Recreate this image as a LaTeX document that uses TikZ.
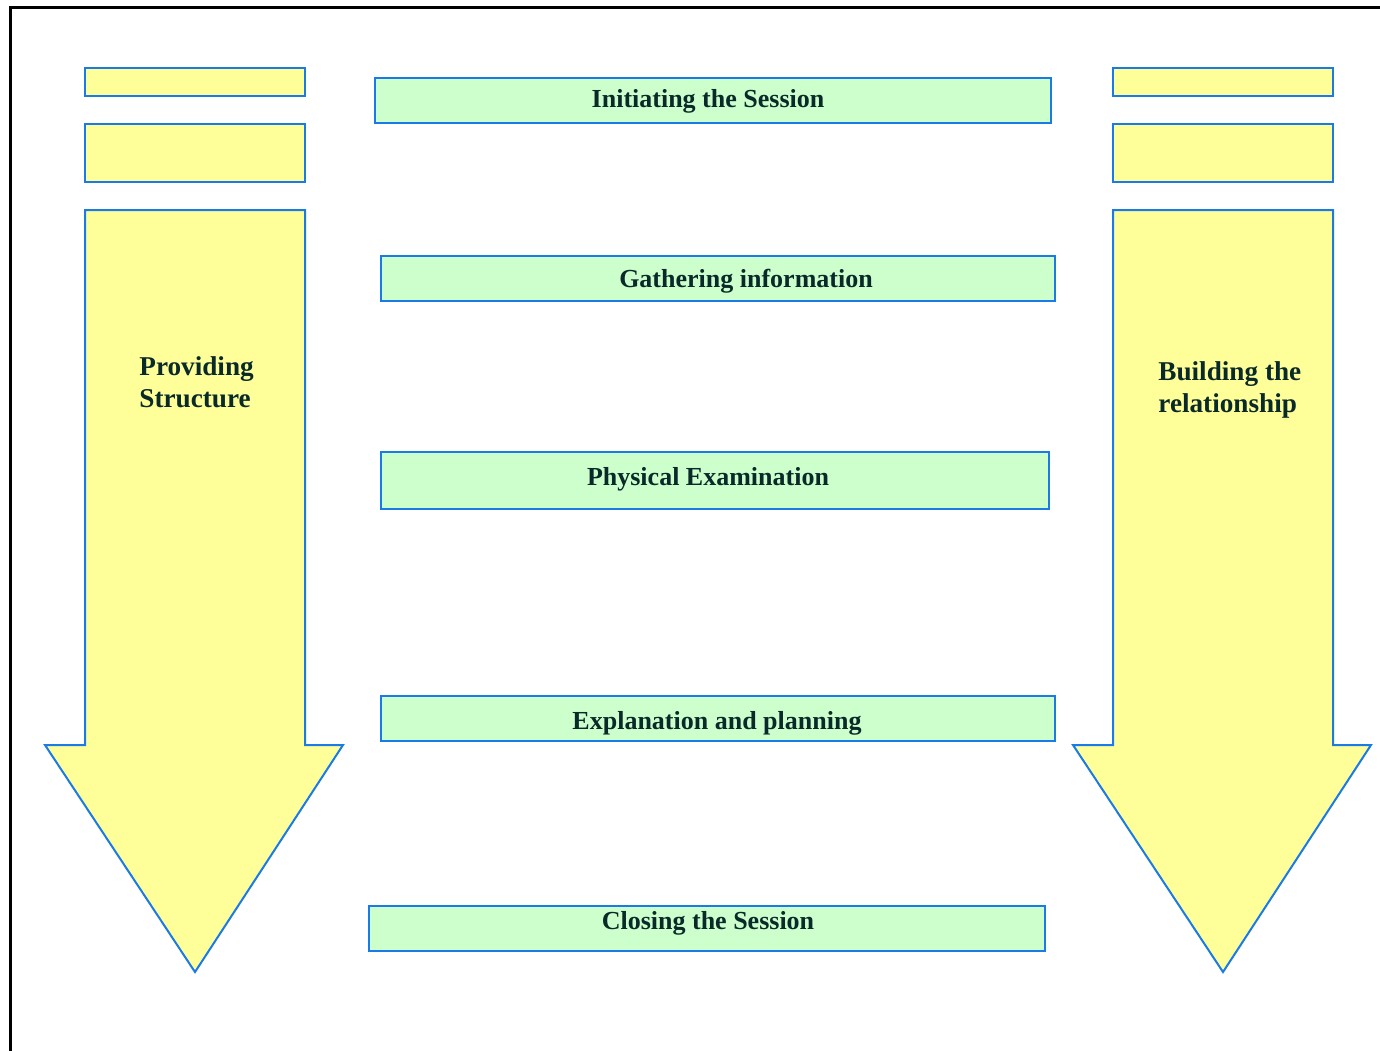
\documentclass[tikz,border=0pt]{standalone}
\usepackage{fontspec}
\setmainfont{Liberation Serif}
\usetikzlibrary{positioning}
\definecolor{pale}{HTML}{FFFF99}
\definecolor{mint}{HTML}{CCFFCC}
\definecolor{edge}{HTML}{1A7AE6}
\definecolor{ink}{HTML}{0A2A2A}
\tikzset{
  stage/.style={draw=edge, fill=mint, line width=1pt, minimum height=22.5pt,
    inner sep=0pt},
  stagetext/.style={text=ink, inner sep=0pt, font=\bfseries\fontsize{13}{14}\selectfont},
  bar/.style={draw=edge, fill=pale, line width=1pt},
  side/.style={align=left, inner sep=0pt, font=\bfseries\fontsize{13.6}{16}\selectfont, text=ink}
}
\newcommand{\sidecolumn}[1]{%
  \draw[bar] (#1-110,68) rectangle (#1+110,96);
  \draw[bar] (#1-110,124) rectangle (#1+110,182);
  \draw[bar] (#1-110,210) -- (#1+110,210) -- (#1+110,745) -- (#1+148,745)
    -- (#1,972) -- (#1-150,745) -- (#1-110,745) -- cycle;}

\begin{document}
\begin{tikzpicture}[x=0.5pt, y=-0.5pt]
\useasboundingbox (0,0) rectangle (1380,1050);
\draw[line width=1.5pt, line cap=rect] (10.5,1050) -- (10.5,7.5) -- (1380,7.5);

% side columns
\sidecolumn{195}
\sidecolumn{1223}

\node[side, anchor=west] (PS) at (139,382) {Providing\\Structure};
\node[side, anchor=west] (BR) at (1158,390) {Building the\\relationship};

% consultation stages
\node[stage, minimum width=338pt] (IS) at (713,100) {};
\node[stagetext] (ISt) at (708,101) {Initiating the Session};
\node[stage, minimum width=337pt] (GI) at (718,278) {};
\node[stagetext] (GIt) at (746,281) {Gathering information};
\node[stage, minimum width=334pt, minimum height=28.5pt] (PE) at (715,480) {};
\node[stagetext] (PEt) at (708,479) {Physical Examination};
\node[stage, minimum width=337pt] (EP) at (718,718) {};
\node[stagetext] (EPt) at (717,723) {Explanation and planning};
\node[stage, minimum width=338pt] (CS) at (707,928) {};
\node[stagetext] (CSt) at (708,923) {Closing the Session};
\end{tikzpicture}
\end{document}
